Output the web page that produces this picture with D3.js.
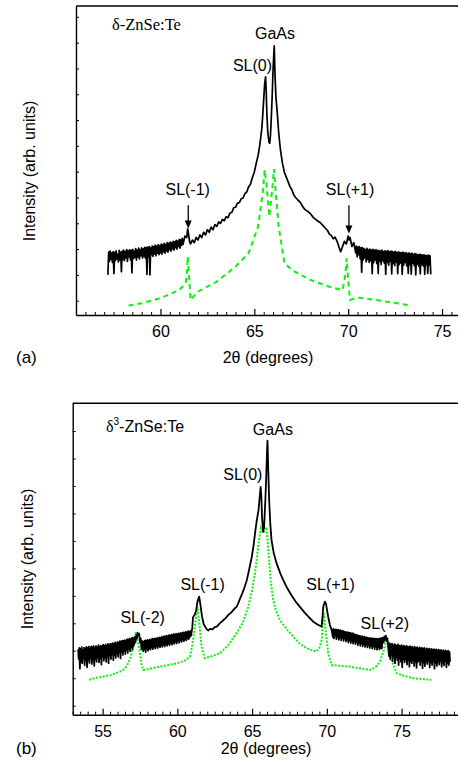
<!DOCTYPE html>
<html><head><meta charset="utf-8">
<script src="https://cdn.jsdelivr.net/npm/d3@7/dist/d3.min.js"></script>
<style>
body{margin:0;background:#fff;}
svg{display:block;}
</style></head><body>
<svg id="c" width="458" height="771"></svg>
<script>
// ---------- DATA ----------
// Scan step used for the noisy background stretches (degrees 2theta)
const scanStep = 0.04;

// Panel (a): delta-ZnSe:Te — measured curve (black), three stretches
const aNoiseLeftStart = 57.20;
const aNoiseLeft = [1.00,1.88,1.52,1.92,1.60,1.85,1.48,1.90,1.05,1.87,
 1.55,1.93,1.62,1.80,1.50,1.95,1.58,1.88,1.12,1.92,
 1.60,1.96,1.55,1.90,1.66,1.98,1.52,1.93,1.70,1.97,
 1.58,1.95,1.08,1.99,1.63,1.92,1.68,2.02,1.57,1.96,
 1.70,2.04,1.62,1.98,1.75,2.05,1.66,2.01,1.72,2.07,
 1.65,2.06,1.02,2.08,1.70,2.10,1.00,2.06,1.78,2.12,
 1.72,2.10,1.80,2.15,1.74,2.12,1.84,2.17,1.78,2.14,
 1.86,2.19,1.80,2.16,1.90,2.22,1.84,2.18,1.93,2.25,
 1.88,2.22,1.98,2.27,1.92,2.24,2.02,2.30,1.96,2.28,
 2.06,2.34,2.00,2.31,2.10,2.38,2.04,2.36,2.14,2.42,
 2.18];
const aPeaks = [[61.3,2.50],[61.4,2.45],[61.45,2.78],[61.5,2.55],[61.55,2.30],[61.6,2.20],[61.7,2.35],[61.8,2.25],[61.9,2.45],[62.0,2.35],[62.1,2.55],[62.2,2.45],[62.3,2.65],[62.4,2.55],[62.5,2.75],[62.6,2.65],[62.7,2.85],[62.8,2.75],[62.9,2.95],[63.0,2.88],[63.1,3.05],[63.2,3.00],[63.3,3.15],[63.4,3.10],[63.5,3.25],[63.6,3.22],[63.7,3.40],[63.8,3.42],[63.9,3.60],[64.0,3.62],[64.1,3.78],[64.2,3.80],[64.3,3.95],[64.4,3.98],[64.5,4.15],[64.6,4.22],[64.7,4.42],[64.8,4.52],[64.9,4.78],[65.0,4.98],[65.1,5.32],[65.2,5.62],[65.3,6.08],[65.4,6.68],[65.45,7.20],[65.5,7.80],[65.55,8.40],[65.6,8.67],[65.63,8.20],[65.67,7.20],[65.72,6.50],[65.78,6.15],[65.82,6.10],[65.86,6.40],[65.9,7.00],[65.95,7.90],[66.0,9.00],[66.06,9.88],[66.1,8.80],[66.15,7.90],[66.22,7.30],[66.3,6.50],[66.39,5.85],[66.5,5.32],[66.6,4.98],[66.75,4.70],[66.9,4.42],[67.0,4.30],[67.1,4.10],[67.2,4.00],[67.3,3.92],[67.46,3.80],[67.6,3.62],[67.7,3.53],[67.85,3.46],[68.0,3.36],[68.15,3.22],[68.3,3.13],[68.52,3.02],[68.7,2.88],[68.8,2.80],[68.9,2.72],[69.0,2.58],[69.1,2.53],[69.2,2.40],[69.3,2.46],[69.41,2.30],[69.5,2.10],[69.6,1.90],[69.7,2.10],[69.8,2.30],[69.9,2.20],[70.0,2.50],[70.05,2.35],[70.1,2.45],[70.2,2.10],[70.3,2.25]];
const aNoiseRightStart = 70.40;
const aNoiseRight = [1.85,2.12,1.70,2.08,1.78,2.10,1.62,2.05,1.10,2.06,
 1.58,2.02,1.66,1.98,1.50,2.03,1.60,1.97,1.48,2.00,
 1.55,1.96,1.05,1.99,1.47,1.95,1.58,1.98,1.44,1.94,
 1.06,1.95,1.52,1.92,1.40,1.96,1.55,1.90,1.46,1.93,
 1.02,1.91,1.48,1.94,1.38,1.89,1.52,1.92,1.04,1.90,
 1.44,1.88,1.36,1.91,1.50,1.86,1.05,1.89,1.40,1.87,
 1.46,1.85,1.02,1.88,1.38,1.84,1.48,1.86,1.35,1.83,
 1.06,1.85,1.40,1.82,1.03,1.84,1.45,1.80,1.36,1.83,
 1.00,1.81,1.42,1.78,1.34,1.80,1.04,1.79,1.40,1.77,
 1.35,1.78,1.02,1.76,1.40,1.75,1.06,1.77,1.38,1.74,
 1.02];
// Panel (a): simulated curve (green dashed)
const aSimulated = [[58.3,-0.19],[59.0,-0.10],[60.0,0.10],[61.0,0.41],[61.35,0.69],[61.42,1.19],[61.45,1.71],[61.52,1.00],[61.6,0.03],[62.0,0.35],[63.0,0.74],[64.0,1.32],[64.7,1.85],[65.2,2.87],[65.45,4.17],[65.55,5.07],[65.65,4.48],[65.8,3.26],[65.95,4.29],[66.05,5.10],[66.15,4.10],[66.3,2.87],[66.6,1.46],[67.0,1.19],[68.0,0.80],[69.0,0.54],[69.7,0.41],[69.85,1.00],[69.92,1.64],[70.0,0.80],[70.1,0.03],[70.5,0.12],[71.5,0.03],[72.5,-0.09],[73.4,-0.19]];

// Panel (b): delta^3-ZnSe:Te — measured curve (black)
const bNoise1Start = 53.36;
const bNoise1 = [2.05,1.70,2.10,1.35,2.07,
 1.60,2.13,1.55,2.02,1.72,2.11,1.48,2.09,1.65,2.14,
 1.40,2.10,1.68,2.15,1.56,2.08,1.74,2.16,1.52,2.12,
 1.66,2.18,1.45,2.11,1.70,2.17,1.60,2.13,1.76,2.20,
 1.58,2.14,1.72,2.19,1.50,2.16,1.78,2.22,1.64,2.18,
 1.75,2.23,1.60,2.19,1.80,2.25,1.55,2.21,1.82,2.26,
 1.70,2.24,1.86,2.28,1.66,2.25,1.84,2.30,1.74,2.27,
 1.90,2.32,1.78,2.29,1.94,2.35,1.72,2.33,1.96,2.37,
 1.85,2.36,2.00,2.39,1.88,2.37,2.04,2.42,1.92,2.40,
 2.08,2.44,1.98,2.42,2.12,2.47,2.05,2.48,2.18];
const bPeakM2 = [[57.15,2.50],[57.2,2.30],[57.25,2.58],[57.3,2.45],[57.35,2.66],[57.4,2.55],[57.45,2.62],[57.5,2.30],[57.55,2.45],[57.6,2.05],[57.65,2.35]];
const bNoise2Start = 57.72;
const bNoise2 = [1.98,2.34,2.05,2.38,1.95,2.36,2.08,2.40,2.00,2.37,
 2.10,2.41,2.04,2.39,2.12,2.44,2.06,2.42,2.14,2.45,
 2.08,2.43,2.16,2.47,2.10,2.45,2.18,2.49,2.12,2.47,
 2.20,2.51,2.14,2.49,2.22,2.53,2.16,2.51,2.24,2.55,
 2.18,2.53,2.26,2.57,2.20,2.55,2.28,2.59,2.22,2.57,
 2.30,2.61,2.25,2.59,2.32,2.62,2.27,2.60,2.35,2.63,
 2.29,2.62,2.38,2.65,2.32,2.64,2.40,2.67,2.35,2.66,
 2.42,2.69,2.38,2.68,2.45,2.71,2.42,2.70,2.50,2.72,
 2.55];
const bPeaks = [[61.0,2.85],[61.05,3.22],[61.15,3.30],[61.25,3.45],[61.35,3.80],[61.46,3.97],[61.55,3.65],[61.65,3.25],[61.75,3.00],[61.85,2.88],[61.95,2.80],[62.06,2.74],[62.2,2.80],[62.35,2.78],[62.5,2.86],[62.64,2.88],[62.8,2.98],[62.95,3.05],[63.09,3.12],[63.25,3.20],[63.4,3.30],[63.54,3.36],[63.7,3.45],[63.85,3.55],[63.96,3.60],[64.05,3.70],[64.2,3.91],[64.35,4.10],[64.5,4.32],[64.65,4.58],[64.8,4.95],[64.98,5.42],[65.1,5.85],[65.2,6.29],[65.3,6.70],[65.43,7.12],[65.5,7.55],[65.57,7.97],[65.62,7.60],[65.67,6.80],[65.74,6.33],[65.8,6.50],[65.88,7.40],[65.95,8.40],[66.0,9.30],[66.03,9.65],[66.07,8.80],[66.14,7.49],[66.22,6.60],[66.3,6.03],[66.45,5.55],[66.64,5.18],[66.9,4.80],[67.1,4.55],[67.3,4.33],[67.6,4.05],[67.9,3.80],[68.2,3.60],[68.5,3.40],[68.8,3.22],[69.09,3.06],[69.3,2.98],[69.5,2.92],[69.65,2.88],[69.72,3.30],[69.76,3.60],[69.87,3.79],[69.95,3.70],[70.02,3.45],[70.09,3.24],[70.2,2.95],[70.32,2.76]];
const bNoise3Start = 70.40;
const bNoise3 = [2.50,2.80,2.45,2.76,2.55,2.78,2.42,2.75,2.52,2.77,
 2.40,2.73,2.48,2.75,2.38,2.71,2.46,2.72,2.36,2.70,
 2.44,2.69,2.34,2.67,2.40,2.68,2.30,2.65,2.38,2.66,
 2.28,2.63,2.36,2.64,2.26,2.61,2.33,2.60,2.24,2.58,
 2.30,2.57,2.20,2.55,2.28,2.54,2.18,2.52,2.26,2.53,
 2.16,2.50,2.24,2.51,2.14,2.48,2.22,2.49,2.12,2.46,
 2.20,2.47,2.10,2.45,2.18,2.46,2.08,2.44,2.16,2.45,
 2.06,2.43,2.15,2.44,2.04,2.42,2.12,2.44,2.05,2.45,
 2.10,2.46,2.08,2.48];
const bPeakP2 = [[73.8,2.30],[73.85,2.52],[73.9,2.40],[73.95,2.55],[74.0,2.35],[74.05,2.45],[74.1,2.15]];
const bNoise4Start = 74.16;
const bNoise4 = [1.80,2.28,1.70,2.22,1.85,2.26,1.62,2.20,1.78,2.24,
 1.55,2.21,1.75,2.18,1.66,2.23,1.48,2.19,1.72,2.17,
 1.60,2.20,1.40,2.16,1.70,2.19,1.58,2.14,1.68,2.18,
 1.50,2.15,1.65,2.13,1.42,2.17,1.62,2.12,1.55,2.15,
 1.66,2.11,1.45,2.14,1.60,2.10,1.38,2.13,1.58,2.09,
 1.65,2.12,1.48,2.08,1.62,2.11,1.36,2.07,1.57,2.10,
 1.44,2.06,1.60,2.09,1.52,2.05,1.64,2.08,1.40,2.04,
 1.58,2.07,1.48,2.03,1.62,2.06,1.35,2.02,1.55,2.05,
 1.45,2.01,1.60,2.04,1.50,2.00,1.63,2.03,1.42,1.99,
 1.57,2.02,1.47,1.98,1.62,2.01,1.40,1.97,1.55,2.00,
 1.48,1.96,1.60];
// Panel (b): simulated curve (green dotted)
const bSimulated = [[54.1,0.94],[54.6,1.02],[55.04,1.06],[55.6,1.12],[56.16,1.24],[56.5,1.35],[56.71,1.54],[56.9,1.80],[57.05,2.15],[57.23,2.69],[57.35,2.35],[57.5,1.91],[57.6,1.50],[57.72,1.30],[58.3,1.36],[58.83,1.42],[59.4,1.48],[59.95,1.54],[60.5,1.64],[60.84,1.78],[61.0,2.20],[61.17,2.88],[61.35,3.60],[61.45,3.10],[61.62,2.15],[61.84,1.73],[62.3,1.80],[62.85,1.91],[63.4,2.20],[63.96,2.64],[64.4,3.05],[64.74,3.60],[65.0,4.20],[65.19,4.82],[65.35,5.50],[65.46,6.03],[65.59,6.46],[65.7,6.30],[65.79,6.33],[65.9,6.50],[65.97,6.46],[66.05,5.90],[66.14,5.30],[66.25,4.50],[66.41,3.85],[66.6,3.45],[66.86,3.12],[67.3,2.80],[67.75,2.51],[68.2,2.25],[68.64,2.09],[69.0,2.02],[69.31,1.97],[69.5,2.10],[69.65,2.39],[69.8,3.36],[69.95,2.60],[70.09,1.91],[70.32,1.48],[70.9,1.45],[71.54,1.42],[72.2,1.36],[72.88,1.30],[73.25,1.40],[73.55,1.60],[73.8,2.00],[74.0,2.45],[74.15,2.05],[74.33,1.66],[74.67,1.18],[75.2,1.08],[75.78,1.00],[76.4,0.97],[77.0,0.94]];

// Axis ticks
const aMajor = [60, 65, 70, 75];
const bMajor = [55, 60, 65, 70, 75];
const aYTicks = [0,1,2,3,4,5,6,7,8,9,10,11];
const bYTicks = [0,1,2,3,4,5,6,7,8,9,10];

const aLabels = [
  {t:"GaAs", x:66.1, y:10.15},
  {t:"SL(0)", x:64.9, y:8.9},
  {t:"SL(-1)", x:61.45, y:4.1, arrow:[3.7, 2.8], ax:61.48},
  {t:"SL(+1)", x:70.1, y:4.1, arrow:[3.7, 2.6], ax:70.04}
];
const bLabels = [
  {t:"GaAs", x:66.39, y:9.85},
  {t:"SL(0)", x:64.38, y:8.22},
  {t:"SL(-1)", x:61.69, y:4.21},
  {t:"SL(+1)", x:70.25, y:4.21},
  {t:"SL(-2)", x:57.68, y:3.0},
  {t:"SL(+2)", x:73.88, y:2.78}
];

// ---------- DRAW ----------
const svg = d3.select("#c");
const SANS = "'Liberation Sans',Arial,sans-serif";
const SERIF = "'Liberation Serif','Times New Roman',serif";
const GREEN = "#10f010";

function grid(x0, ys){ return ys.map((v,i)=>[+(x0 + i*scanStep).toFixed(2), v]); }

function panel(o){
  const g = svg.append("g").style("font-family",SANS);
  const x = d3.scaleLinear().domain(o.xDom).range(o.xRange);
  const y = d3.scaleLinear().domain(o.yDom).range(o.yRange);
  const x0 = o.xRange[0], x1 = o.xRange[1], yb = o.yRange[0], yt = o.yRange[1];

  g.append("line").attr("x1",x0).attr("x2",x1).attr("y1",yt).attr("y2",yt)
    .attr("stroke","#000").attr("stroke-width",1.5);

  const minor = d3.range(Math.ceil(o.xDom[0]*2)/2, o.xDom[1]+0.001, 0.5).filter(v=>o.major.indexOf(v)<0);
  g.append("g").attr("transform",`translate(0,${yb})`)
    .call(d3.axisBottom(x).tickValues(minor).tickSize(-3).tickFormat(""))
    .call(s=>s.select(".domain").remove())
    .call(s=>s.selectAll("line").attr("stroke-width",1));
  const xa = g.append("g").attr("transform",`translate(0,${yb})`)
    .call(d3.axisBottom(x).tickValues(o.major).tickSizeInner(-6).tickSizeOuter(0).tickPadding(11).tickFormat(d3.format("d")));
  xa.select(".domain").attr("stroke-width",1.6);
  xa.selectAll("line").attr("stroke-width",1.2);
  xa.selectAll("text").attr("font-size",16).style("font-family",SANS).attr("fill","#000");

  const ya = g.append("g").attr("transform",`translate(${x0},0)`)
    .call(d3.axisLeft(y).tickValues(o.yTicks).tickSizeInner(-3).tickSizeOuter(0).tickFormat(""));
  ya.select(".domain").attr("stroke-width",1.4);

  const line = d3.line().x(d=>x(d[0])).y(d=>y(d[1]));
  g.append("path").datum(o.sim).attr("d",line).attr("fill","none")
    .attr("stroke",GREEN).attr("stroke-width",2).attr("stroke-dasharray",o.dash);
  g.append("path").datum(o.meas).attr("d",line).attr("fill","none")
    .attr("stroke","#000").attr("stroke-width",o.lw).attr("stroke-linejoin","round");

  o.labels.forEach(l=>{
    g.append("text").attr("x",x(l.x)).attr("y",y(l.y)).attr("text-anchor","middle")
      .attr("font-size",16).text(l.t);
    if(l.arrow){
      const ax = x(l.ax), ya0 = y(l.arrow[0]), ya1 = y(l.arrow[1]);
      g.append("line").attr("x1",ax).attr("x2",ax).attr("y1",ya0).attr("y2",ya1-6)
        .attr("stroke","#000").attr("stroke-width",1.3);
      g.append("path").attr("d",`M${ax-3.5},${ya1-8}L${ax+3.5},${ya1-8}L${ax},${ya1}Z`).attr("fill","#000");
    }
  });

  g.append("text").attr("x",o.xTitle[0]).attr("y",o.xTitle[1]).attr("text-anchor","middle")
    .attr("font-size",16).text("2θ (degrees)");
  g.append("text").attr("transform",`translate(${o.yTitle[0]},${o.yTitle[1]}) rotate(-90)`)
    .attr("text-anchor","middle").attr("font-size",16).text("Intensity (arb. units)");
  g.append("text").attr("x",16).attr("y",o.xTitle[1]).attr("font-size",17).text(o.tag);
  return {g,x,y};
}

const aMeasured = grid(aNoiseLeftStart, aNoiseLeft).concat(aPeaks, grid(aNoiseRightStart, aNoiseRight));
const bMeasured = grid(bNoise1Start, bNoise1).concat(bPeakM2, grid(bNoise2Start, bNoise2), bPeaks,
  grid(bNoise3Start, bNoise3), bPeakP2, grid(bNoise4Start, bNoise4));

const A = panel({
  xDom:[55.5,76], xRange:[76,460.8], yDom:[-0.554,11.42], yRange:[315,6],
  major:aMajor, yTicks:aYTicks, meas:aMeasured, sim:aSimulated, dash:"5,4", lw:1.7,
  labels:aLabels, xTitle:[268,363], yTitle:[35,171], tag:"(a)"
});
A.g.append("text").attr("x",112).attr("y",30).style("font-family",SERIF)
  .attr("font-size",16.5).text("δ-ZnSe:Te");

const B = panel({
  xDom:[53,79], xRange:[72.7,461.4], yDom:[-0.328,11.01], yRange:[714.7,403.3],
  major:bMajor, yTicks:bYTicks, meas:bMeasured, sim:bSimulated, dash:"2,1.5", lw:1.8,
  labels:bLabels, xTitle:[266,754], yTitle:[33,559], tag:"(b)"
});
const bt = B.g.append("text").attr("x",106).attr("y",432).attr("font-size",16);
bt.append("tspan").style("font-family",SERIF).text("δ");
bt.append("tspan").attr("font-size",10).attr("dy",-7).text("3");
bt.append("tspan").attr("dy",7).text("-ZnSe:Te");
</script>
</body></html>
